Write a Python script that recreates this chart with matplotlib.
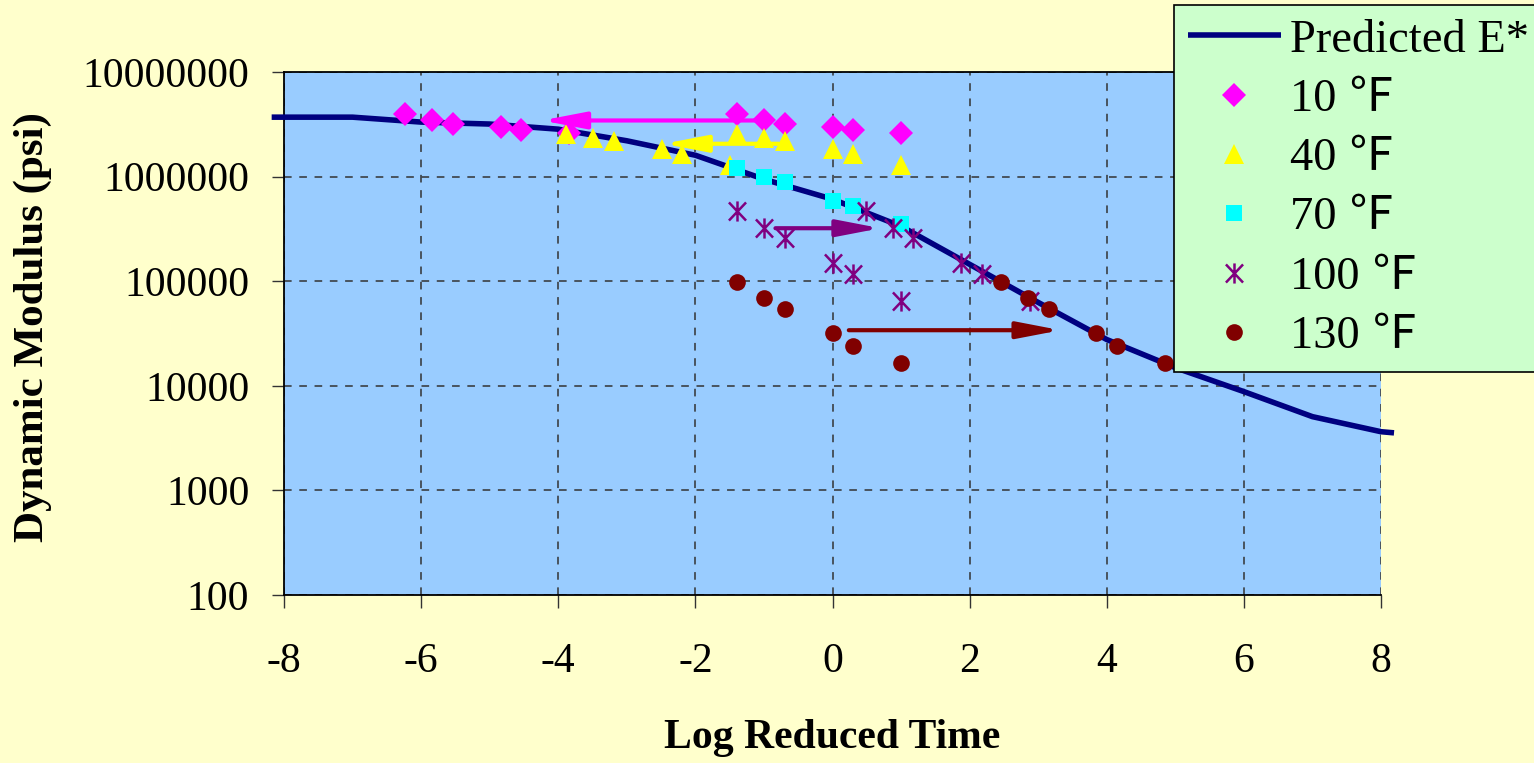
import matplotlib
matplotlib.use("Agg")
import matplotlib.pyplot as plt
import numpy as np
from matplotlib.path import Path

# Predicted master curve (log reduced time vs E*, psi)
curve_x = [-8.18, -7, -6, -5, -4, -3, -2, -1, 0, 1, 2, 3, 4, 5, 6, 7, 8, 8.19]
curve_e = [3.70e6, 3.70e6, 3.32e6, 3.18e6, 2.84e6, 2.20e6, 1.60e6, 9.44e5, 6.08e5,
           3.35e5, 1.45e5, 6.27e4, 2.77e4, 1.49e4, 8.8e3, 5.07e3, 3.64e3, 3.55e3]

# measured log loading time (25, 10, 5, 1, 0.5, 0.1 Hz)
log_t = [-1.398, -1.0, -0.699, 0.0, 0.301, 1.0]

e_10 = [3.96e6, 3.49e6, 3.18e6, 2.99e6, 2.80e6, 2.64e6]
e_40 = [2.55e6, 2.33e6, 2.20e6, 1.83e6, 1.64e6, 1.29e6]
e_70 = [1.20e6, 1.00e6, 8.9e5, 5.85e5, 5.24e5, 3.50e5]
e_100 = [4.69e5, 3.25e5, 2.61e5, 1.48e5, 1.16e5, 6.44e4]
e_130 = [9.89e4, 6.95e4, 5.46e4, 3.21e4, 2.39e4, 1.66e4]

# horizontal shift (log aT) per temperature
shift_10 = -4.84
shift_40 = -2.49
shift_100 = 1.88
shift_130 = 3.85

# arrows: (x_from, x_to, E)
arrow_10 = (-1.095, -4.238, 3.44e6)
arrow_40 = (-0.788, -2.463, 2.06e6)
arrow_100 = (-0.832, 0.701, 3.21e5)
arrow_130 = (0.238, 3.328, 3.40e4)

labels = ["Predicted E*", "10 ℉", "40 ℉", "70 ℉", "100 ℉", "130 ℉"]
yticks = [100, 1000, 10000, 100000, 1000000, 10000000]
xticks = [-8, -6, -4, -2, 0, 2, 4, 6, 8]

serif = ["Liberation Serif", "Noto Sans CJK JP", "DejaVu Sans"]
plt.rcParams["font.family"] = serif

# asterisk marker (X plus vertical bar)
star = Path([(0, -1), (0, 1), (-0.85, -0.9), (0.85, 0.9), (-0.85, 0.9), (0.85, -0.9)],
            [Path.MOVETO, Path.LINETO, Path.MOVETO, Path.LINETO, Path.MOVETO, Path.LINETO])

fig = plt.figure(figsize=(15.34, 7.63), dpi=100, facecolor="#FFFFCC")
ax = fig.add_axes([284 / 1534, 1 - 595 / 763, (1381 - 284) / 1534, (595 - 72) / 763])
ax.set_facecolor("#99CCFF")
ax.set_yscale("log")
ax.set_xlim(-8, 8)
ax.set_ylim(100, 1e7)

navy = "#000080"
line, = ax.plot(curve_x, curve_e, color=navy, lw=4, clip_on=False, zorder=3,
                solid_capstyle="butt")

t = np.array(log_t)
mk_d = dict(ls="none", zorder=4, markeredgewidth=0)
d10, = ax.plot(t, e_10, marker="D", ms=12.5, color="#FF00FF", **mk_d)
ax.plot(t + shift_10, e_10, marker="D", ms=12.5, color="#FF00FF", **mk_d)
d40, = ax.plot(t, e_40, marker="^", ms=14.5, color="#FFFF00", **mk_d)
ax.plot(t + shift_40, e_40, marker="^", ms=14.5, color="#FFFF00", **mk_d)
d70, = ax.plot(t, e_70, marker="s", ms=12, color="#00FFFF", **mk_d)
d100, = ax.plot(t, e_100, marker=star, ms=14.5, color="#800080", ls="none", zorder=4,
                markeredgewidth=1.8, fillstyle="none")
ax.plot(t + shift_100, e_100, marker=star, ms=14.5, color="#800080", ls="none", zorder=4,
        markeredgewidth=1.8, fillstyle="none")
d130, = ax.plot(t, e_130, marker="o", ms=12, color="#800000", **mk_d)
ax.plot(t + shift_130, e_130, marker="o", ms=12, color="#800000", **mk_d)

for (x0, x1, e), c in zip([arrow_10, arrow_40, arrow_100, arrow_130],
                          ["#FF00FF", "#FFFF00", "#800080", "#800000"]):
    ax.annotate("", xy=(x1, e), xytext=(x0, e), zorder=5,
                arrowprops=dict(arrowstyle="-|>,head_length=2.6,head_width=0.5",
                                mutation_scale=10, color=c, lw=3,
                                shrinkA=0, shrinkB=0))

ax.set_xticks(xticks)
ax.set_xticklabels([str(v) for v in xticks])
ax.set_yticks(yticks)
ax.set_yticklabels([str(v) for v in yticks])
ax.minorticks_off()
ax.tick_params(axis="both", direction="out", length=9, width=1, labelsize=30,
               color="#333333")
ax.tick_params(axis="y", pad=16)
ax.tick_params(axis="x", pad=25)
ax.grid(True, color="#333333", ls=(0, (5, 5)), lw=1.1)
ax.spines["right"].set_visible(False)
for s in ["left", "bottom", "top"]:
    ax.spines[s].set_linewidth(1.3)

fig.text(832 / 1534, 1 - 738 / 763, "Log Reduced Time", ha="center", va="center",
         fontsize=30, fontweight="bold")
fig.text(33 / 1534, 1 - 327 / 763, "Dynamic Modulus (psi)", ha="center", va="center",
         rotation=90, fontsize=31, fontweight="bold")

leg = fig.legend([line, d10, d40, d70, d100, d130], labels, loc="upper left",
                 bbox_to_anchor=(1174 / 1534, 1 - 5 / 763), borderaxespad=0,
                 fontsize=33.5, frameon=True, fancybox=False, framealpha=1,
                 facecolor="#CCFFCC", edgecolor="black", handlelength=2.0,
                 handletextpad=0.2, labelspacing=0.36, borderpad=0.3,
                 numpoints=1)
leg.get_frame().set_linewidth(1.2)

fig.savefig("out.png", dpi=100, facecolor=fig.get_facecolor())
